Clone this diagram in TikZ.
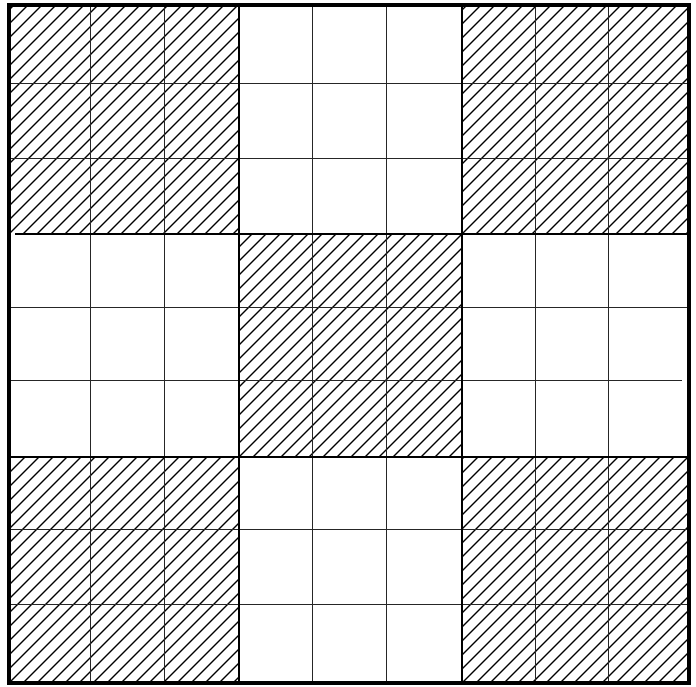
\documentclass[tikz,border=0pt]{standalone}
\begin{document}
\begin{tikzpicture}[x=1pt,y=-1pt,
  frame/.style={line width=4pt},
  thickline/.style={line width=2.6pt},
  thinline/.style={line width=0.8pt, black!85},
  hatchline/.style={line width=1.3pt}]
\useasboundingbox (0,0) rectangle (696,686);
% hatched blocks
\foreach \xa/\ya/\xb/\yb in {9/5/239/234, 462/5/689/234, 239/234/462/457, 9/457/239/683, 462/457/689/683}{
  \begin{scope}
    \clip (\xa,\ya) rectangle (\xb,\yb);
    \foreach \k in {-18,...,18}{
      \draw[hatchline] ({\xa+\k*14},\yb) -- ({\xa+\k*14+260},{\yb-260});
    }
  \end{scope}
}
% thin grid lines
\foreach \x in {90,164,312,386,535,608}{
  \draw[thinline] (\x,5) -- (\x,683);
}
\foreach \y in {83,158,307,529,604}{
  \draw[thinline] (9,\y) -- (689,\y);
}
\draw[thinline] (9,380) -- (682,380);
% thick block lines
\draw[thickline] (239,5) -- (239,683);
\draw[thickline] (462,5) -- (462,683);
\draw[thickline] (15,234) -- (689,234);
\draw[thickline] (9,457) -- (689,457);
% outer frame
\draw[frame] (9,5) rectangle (689,683);
\end{tikzpicture}
\end{document}
